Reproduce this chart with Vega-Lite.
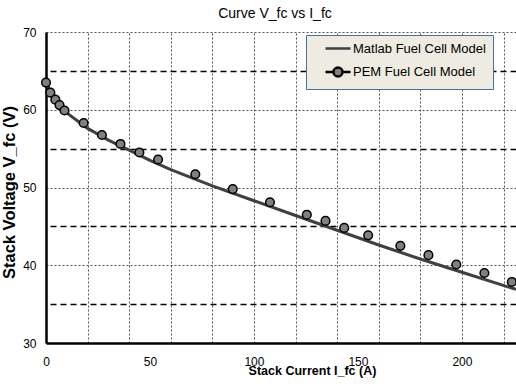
{
  "$schema": "https://vega.github.io/schema/vega-lite/v6.json",
  "width": 470,
  "height": 311,
  "autosize": "none",
  "padding": {"left": 46, "top": 32, "right": 0, "bottom": 45},
  "background": "white",
  "title": {
    "text": "Curve V_fc vs I_fc",
    "font": "Liberation Sans",
    "fontSize": 14,
    "fontWeight": "normal",
    "color": "#000000",
    "baseline": "alphabetic",
    "offset": -6,
    "dx": -6
  },
  "config": {
    "view": {"stroke": null},
    "font": "Liberation Sans"
  },
  "datasets": {
    "matlab": [
      {"I": 0, "V": 63.7, "series": "Matlab Fuel Cell Model"},
      {"I": 2, "V": 62.4, "series": "Matlab Fuel Cell Model"},
      {"I": 5, "V": 61.1, "series": "Matlab Fuel Cell Model"},
      {"I": 10, "V": 59.6, "series": "Matlab Fuel Cell Model"},
      {"I": 20, "V": 57.6, "series": "Matlab Fuel Cell Model"},
      {"I": 30, "V": 56.1, "series": "Matlab Fuel Cell Model"},
      {"I": 40, "V": 54.8, "series": "Matlab Fuel Cell Model"},
      {"I": 50, "V": 53.5, "series": "Matlab Fuel Cell Model"},
      {"I": 60, "V": 52.3, "series": "Matlab Fuel Cell Model"},
      {"I": 80, "V": 50.2, "series": "Matlab Fuel Cell Model"},
      {"I": 100, "V": 48.3, "series": "Matlab Fuel Cell Model"},
      {"I": 120, "V": 46.4, "series": "Matlab Fuel Cell Model"},
      {"I": 140, "V": 44.5, "series": "Matlab Fuel Cell Model"},
      {"I": 160, "V": 42.6, "series": "Matlab Fuel Cell Model"},
      {"I": 180, "V": 40.8, "series": "Matlab Fuel Cell Model"},
      {"I": 200, "V": 39.1, "series": "Matlab Fuel Cell Model"},
      {"I": 226, "V": 36.9, "series": "Matlab Fuel Cell Model"}
    ],
    "pem": [
      {"I": 0, "V": 63.5, "series": "PEM Fuel Cell Model"},
      {"I": 2.1, "V": 62.2, "series": "PEM Fuel Cell Model"},
      {"I": 4.5, "V": 61.3, "series": "PEM Fuel Cell Model"},
      {"I": 6.5, "V": 60.6, "series": "PEM Fuel Cell Model"},
      {"I": 8.9, "V": 59.9, "series": "PEM Fuel Cell Model"},
      {"I": 18.1, "V": 58.3, "series": "PEM Fuel Cell Model"},
      {"I": 26.9, "V": 56.75, "series": "PEM Fuel Cell Model"},
      {"I": 35.8, "V": 55.6, "series": "PEM Fuel Cell Model"},
      {"I": 44.9, "V": 54.5, "series": "PEM Fuel Cell Model"},
      {"I": 53.9, "V": 53.6, "series": "PEM Fuel Cell Model"},
      {"I": 71.8, "V": 51.7, "series": "PEM Fuel Cell Model"},
      {"I": 89.8, "V": 49.8, "series": "PEM Fuel Cell Model"},
      {"I": 107.7, "V": 48.1, "series": "PEM Fuel Cell Model"},
      {"I": 125.4, "V": 46.5, "series": "PEM Fuel Cell Model"},
      {"I": 134.4, "V": 45.7, "series": "PEM Fuel Cell Model"},
      {"I": 143.4, "V": 44.8, "series": "PEM Fuel Cell Model"},
      {"I": 154.9, "V": 43.85, "series": "PEM Fuel Cell Model"},
      {"I": 170.4, "V": 42.5, "series": "PEM Fuel Cell Model"},
      {"I": 183.9, "V": 41.3, "series": "PEM Fuel Cell Model"},
      {"I": 197.3, "V": 40.1, "series": "PEM Fuel Cell Model"},
      {"I": 210.8, "V": 39.0, "series": "PEM Fuel Cell Model"},
      {"I": 224, "V": 37.85, "series": "PEM Fuel Cell Model"}
    ]
  },
  "resolve": {"axis": {"x": "independent", "y": "independent"}},
  "layer": [
    {
      "data": {"name": "matlab"},
      "mark": {"type": "line", "strokeWidth": 3, "clip": true},
      "encoding": {
        "x": {
          "field": "I", "type": "quantitative",
          "scale": {"domain": [0, 226], "nice": false, "zero": false},
          "axis": {
            "values": [0, 50, 100, 150, 200],
            "grid": false,
            "ticks": false,
            "domainColor": "#000000",
            "domainWidth": 2.5,
            "labelFont": "Liberation Sans",
            "labelFontSize": 12,
            "labelColor": "#000000",
            "labelPadding": 13,
            "labelFlush": false,
            "title": "Stack Current  I_fc (A)",
            "titleFont": "Liberation Sans",
            "titleFontSize": 12.5,
            "titleFontWeight": "bold",
            "titleColor": "#000000",
            "titleX": 266,
            "titleY": 31,
            "titleAlign": "center",
            "titleBaseline": "alphabetic"
          }
        },
        "y": {
          "field": "V", "type": "quantitative",
          "scale": {"domain": [30, 70], "nice": false, "zero": false},
          "axis": {
            "values": [30, 40, 50, 60, 70],
            "grid": true,
            "gridColor": "#555555",
            "gridDash": [2, 2],
            "gridWidth": 1,
            "ticks": false,
            "domainColor": "#000000",
            "domainWidth": 2.5,
            "labelFont": "Liberation Sans",
            "labelFontSize": 12,
            "labelColor": "#000000",
            "labelPadding": 10,
            "labelFlush": false,
            "title": "Stack Voltage V_fc  (V)",
            "titleFont": "Liberation Sans",
            "titleFontSize": 16.5,
            "titleFontWeight": "bold",
            "titleColor": "#000000",
            "titleX": -32,
            "titleY": 160,
            "titleAlign": "center",
            "titleAngle": -90,
            "titleBaseline": "alphabetic"
          }
        },
        "stroke": {
          "field": "series", "type": "nominal",
          "scale": {
            "domain": ["Matlab Fuel Cell Model", "PEM Fuel Cell Model"],
            "range": ["#404040", "#000000"]
          },
          "legend": {
            "orient": "none",
            "legendX": 260,
            "legendY": 3,
            "title": null,
            "fillColor": "#eeece1",
            "strokeColor": "#4a6fa0",
            "padding": 7,
            "symbolSize": 100,
            "symbolStrokeWidth": 2.5,
            "labelFont": "Liberation Sans",
            "labelFontSize": 13,
            "labelColor": "#000000",
            "labelOffset": 27,
            "rowPadding": 6.5,
            "labelExpr": "datum.label + '    '",
            "encode": {
              "symbols": {
                "update": {
                  "shape": {"signal": "datum.value === 'PEM Fuel Cell Model' ? 'M1.2,0L2.8,0M4.6,0L6.2,0M2.8,0A0.9,0.9,0,1,1,4.6,0A0.9,0.9,0,1,1,2.8,0Z' : 'M1.2,0L6.2,0'"},
                  "fill": {"signal": "datum.value === 'PEM Fuel Cell Model' ? '#808080' : 'transparent'"},
                  "strokeWidth": {"value": 2.5},
                  "opacity": {"value": 1}
                }
              }
            }
          }
        }
      }
    },
    {
      "data": {"name": "pem"},
      "mark": {"type": "point", "filled": true, "fill": "#808080", "strokeWidth": 1.5, "size": 75, "opacity": 1},
      "encoding": {
        "x": {
          "field": "I", "type": "quantitative",
          "axis": {
            "orient": "top",
            "values": [20, 40, 60, 80, 100, 120, 140, 160, 180, 200, 220],
            "grid": true,
            "gridColor": "#555555",
            "gridDash": [2, 2],
            "gridWidth": 1,
            "labels": false,
            "ticks": false,
            "domain": false,
            "title": null
          }
        },
        "y": {
          "field": "V", "type": "quantitative",
          "axis": {
            "orient": "right",
            "values": [35, 45, 55, 65],
            "grid": true,
            "gridColor": "#000000",
            "gridDash": [6, 4],
            "gridWidth": 1.5,
            "labels": false,
            "ticks": false,
            "domain": false,
            "title": null
          }
        },
        "stroke": {"field": "series", "type": "nominal"}
      }
    }
  ]
}
